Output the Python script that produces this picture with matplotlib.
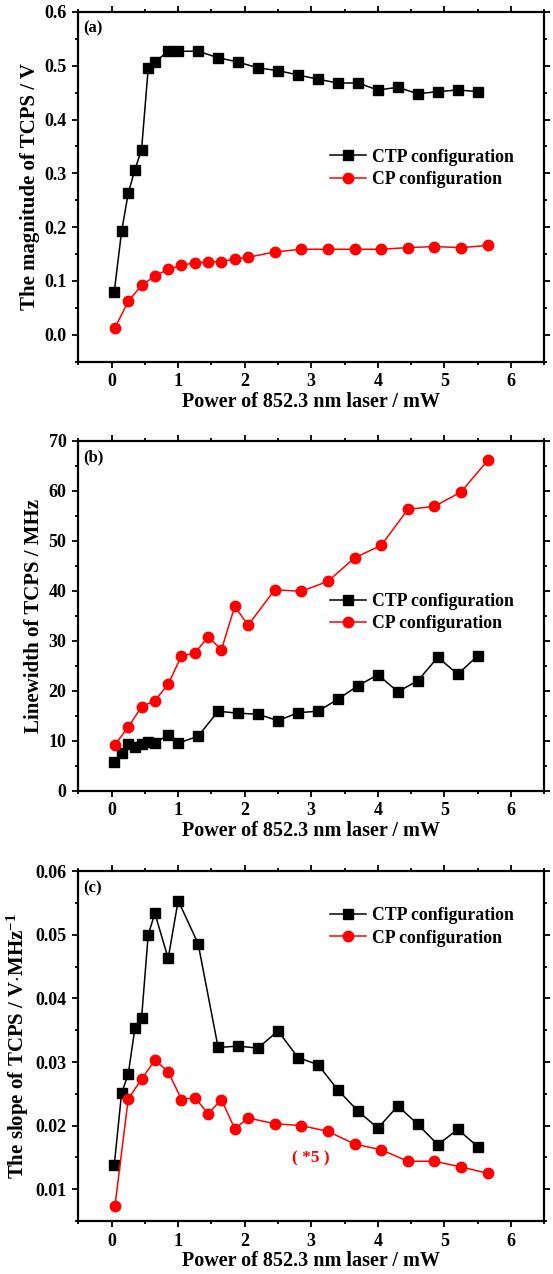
import matplotlib
matplotlib.use("Agg")
import matplotlib.pyplot as plt
from matplotlib.ticker import MultipleLocator

plt.rcParams['font.family'] = ['Liberation Serif', 'DejaVu Serif']
plt.rcParams['font.weight'] = 'bold'
plt.rcParams['mathtext.fontset'] = 'custom'
plt.rcParams['mathtext.rm'] = 'Liberation Serif:bold'
plt.rcParams['mathtext.it'] = 'Liberation Serif:bold'
plt.rcParams['mathtext.bf'] = 'Liberation Serif:bold'

# x positions (mW)
power_ctp = [0.04, 0.15, 0.25, 0.35, 0.45, 0.55, 0.65, 0.85, 1.0, 1.3, 1.6, 1.9,
             2.2, 2.5, 2.8, 3.1, 3.4, 3.7, 4.0, 4.3, 4.6, 4.9, 5.2, 5.5]
power_cp = [0.05, 0.25, 0.45, 0.65, 0.85, 1.05, 1.25, 1.45, 1.65, 1.85, 2.05,
            2.45, 2.85, 3.25, 3.65, 4.05, 4.45, 4.85, 5.25, 5.65]

# (a) magnitude / V
mag_ctp = [0.080, 0.192, 0.263, 0.307, 0.344, 0.495, 0.507, 0.527, 0.527, 0.527,
           0.515, 0.507, 0.496, 0.491, 0.483, 0.475, 0.468, 0.468, 0.455, 0.460,
           0.448, 0.452, 0.455, 0.452]
mag_cp = [0.013, 0.062, 0.092, 0.109, 0.122, 0.129, 0.134, 0.135, 0.136, 0.141,
          0.144, 0.154, 0.159, 0.159, 0.159, 0.159, 0.162, 0.164, 0.162, 0.166]

# (b) linewidth / MHz
lw_ctp = [5.7, 7.5, 9.3, 8.7, 9.3, 9.8, 9.5, 11.2, 9.5, 10.9, 15.9, 15.5, 15.3,
          14.0, 15.6, 15.9, 18.3, 21.0, 23.2, 19.8, 22.0, 26.7, 23.3, 27.0]
lw_cp = [9.2, 12.7, 16.8, 18.0, 21.3, 27.0, 27.5, 30.8, 28.2, 36.9, 33.1, 40.2,
         39.9, 41.9, 46.6, 49.1, 56.3, 56.9, 59.8, 66.1]

# (c) slope / V·MHz^-1
slope_ctp = [0.0138, 0.0251, 0.0281, 0.0353, 0.0369, 0.0500, 0.0534, 0.0463,
             0.0554, 0.0486, 0.0323, 0.0325, 0.0322, 0.0349, 0.0307, 0.0296,
             0.0256, 0.0223, 0.0196, 0.0231, 0.0202, 0.0170, 0.0194, 0.0167]
slope_cp = [0.0073, 0.0242, 0.0273, 0.0303, 0.0285, 0.0241, 0.0244, 0.0219,
            0.0241, 0.0195, 0.0212, 0.0203, 0.0200, 0.0191, 0.0171, 0.0162,
            0.0144, 0.0144, 0.0135, 0.0125]

fig = plt.figure(figsize=(5.53, 12.74), dpi=100)
left, width, height = 0.1416, 0.8427, 0.2745
bottoms = [0.7161, 0.3794, 0.0416]

panels = [
    ("(a)", mag_ctp, mag_cp, (-0.05, 0.6), 0.1, 0.05, "The magnitude of TCPS / V", 0.553),
    ("(b)", lw_ctp, lw_cp, (0, 70), 10, 5, "Linewidth of TCPS / MHz", 0.509),
    ("(c)", slope_ctp, slope_cp, (0.005, 0.06), 0.01, 0.005,
     "The slope of TCPS / V$\\cdot$MHz$^{-1}$", 0.841),
]

for (tag, ctp, cp, ylim, major, minor, ylabel, leg_y), b in zip(panels, bottoms):
    ax = fig.add_axes([left, b, width, height])
    ax.plot(power_ctp, ctp, color='black', marker='s', markersize=7, linewidth=1.1,
            label='CTP configuration')
    ax.plot(power_cp, cp, color='red', marker='o', markersize=7.5, linewidth=1.1,
            label='CP configuration')
    ax.set_xlim(-0.5, 6.5)
    ax.set_ylim(*ylim)
    ax.xaxis.set_major_locator(MultipleLocator(1))
    ax.xaxis.set_minor_locator(MultipleLocator(0.5))
    ax.yaxis.set_major_locator(MultipleLocator(major))
    ax.yaxis.set_minor_locator(MultipleLocator(minor))
    if tag == "(c)":
        ax.set_yticks([0.01, 0.02, 0.03, 0.04, 0.05, 0.06])
    elif tag == "(a)":
        ax.set_yticks([0.0, 0.1, 0.2, 0.3, 0.4, 0.5, 0.6])
        ax.set_yticklabels(['0.0', '0.1', '0.2', '0.3', '0.4', '0.5', '0.6'])
    for s in ax.spines.values():
        s.set_linewidth(1.6)
    ax.tick_params(which='both', direction='out', top=True, right=True,
                   labeltop=False, labelright=False, width=1.3)
    ax.tick_params(which='major', length=4.5, labelsize=13, pad=4)
    ax.tick_params(which='minor', length=2.5)
    ax.set_xlabel("Power of 852.3 nm laser / mW", fontsize=14.5, fontweight='bold',
                  labelpad=1)
    ax.set_ylabel(ylabel, fontsize=15, fontweight='bold', labelpad=3)
    ax.text(0.01, 0.975, tag, transform=ax.transAxes, fontsize=12,
            fontweight='bold', ha='left', va='top')
    ax.legend(loc='center left', bbox_to_anchor=(0.54, leg_y), frameon=False,
              handlelength=2.0, handletextpad=0.35, labelspacing=0.3,
              borderpad=0, borderaxespad=0, prop={'weight': 'bold', 'size': 12.8})
    if tag == "(c)":
        ax.text(3.0, 0.0149, "( *5 )", color='red', fontsize=12.5,
                fontweight='bold', ha='center', va='center')

fig.savefig("out.png", dpi=100)
